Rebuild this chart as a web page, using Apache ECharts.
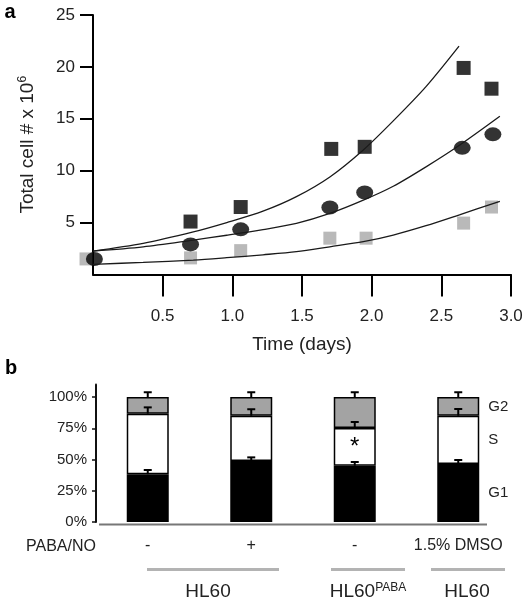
<!DOCTYPE html>
<html><head><meta charset="utf-8">
<script src="https://cdn.jsdelivr.net/npm/echarts@6/dist/echarts.min.js"></script>
<style>html,body{margin:0;padding:0;background:#fff}#c{width:528px;height:601px}</style>
</head><body><div id="c"></div>
<script>
// ---- Panel a data (Time in days, total cell # x 10^6)
const blackSquares = [[0.70,5.1],[1.06,6.5],[1.71,12.1],[1.95,12.3],[2.66,19.9],[2.86,17.9]];
const circles = [[0.01,1.5],[0.70,2.9],[1.06,4.35],[1.70,6.45],[1.95,7.9],[2.65,12.2],[2.87,13.5]];
const graySquares = [[-0.05,1.5],[0.70,1.6],[1.06,2.3],[1.70,3.5],[1.96,3.5],[2.66,4.95],[2.86,6.5]];
const fitUpper = [[0,2.26],[0.36,3.0],[0.72,4.1],[0.96,5.0],[1.22,6.1],[1.46,7.5],[1.70,9.4],[1.94,12.0],[2.155,14.8],[2.39,18.1],[2.627,22.0]];
const fitMiddle = [[0,2.26],[0.36,2.67],[0.72,3.32],[0.96,3.78],[1.22,4.32],[1.46,4.92],[1.70,5.88],[1.94,7.16],[2.155,8.5],[2.39,10.37],[2.63,12.45],[2.92,15.24]];
const fitLower = [[0,0.98],[0.36,1.17],[0.72,1.39],[0.96,1.62],[1.22,1.9],[1.46,2.2],[1.70,2.67],[1.94,3.16],[2.155,3.8],[2.39,4.7],[2.63,5.75],[2.92,7.05]];
const xTicks = [0.5,1.0,1.5,2.0,2.5,3.0];
const yTicks = [5,10,15,20,25];

// ---- Panel b data (% of cells)
const conditions = ['-','+','-','1.5% DMSO'];
const g1 = [38.2,48.8,45.0,46.4];
const sPhase = [48.5,36.2,30.2,38.6];
const g2 = [13.3,15.0,24.8,15.0];
const g1Err = [3.4,2.9,3.0,3.2];
const sErr = [5.0,5.2,4.8,5.4];
const g2Err = [3.8,3.8,3.8,3.8];
const pctTicks = [0,25,50,75,100];
const phaseNames = ['G1','S','G2'];

const FONT = '"Liberation Sans", Arial, Helvetica, sans-serif';
const chart = echarts.init(document.getElementById('c'), null, {renderer:'canvas'});

const errData = [];
for (let i = 0; i < conditions.length; i++) {
  const t1 = g1[i], t2 = g1[i] + sPhase[i], t3 = g1[i] + sPhase[i] + g2[i];
  errData.push([i, t1, g1Err[i]]);
  errData.push([i, t2, sErr[i]]);
  errData.push([i, t3, g2Err[i]]);
}

const sideLabel = (name) => ({
  show: true, position: 'right', distance: 9, fontSize: 15, color: '#222', fontFamily: FONT,
  formatter: p => p.dataIndex === conditions.length - 1 ? name : ''
});

const fitLine = (data) => ({
  type: 'line', xAxisIndex: 0, yAxisIndex: 0, data: data, smooth: 0.3,
  showSymbol: false, symbol: 'none', lineStyle: {color: '#1a1a1a', width: 1.3}, z: 4
});

const option = {
  animation: false,
  textStyle: {fontFamily: FONT},
  grid: [
    {left: 93, top: 15, width: 418, height: 259.5},
    {left: 96, top: 384.5, width: 414, height: 137.5}
  ],
  xAxis: [
    {type: 'value', gridIndex: 0, min: 0, max: 3,
     axisLine: {lineStyle: {color: '#000', width: 2}},
     axisTick: {customValues: xTicks, length: 22, lineStyle: {color: '#000', width: 2}},
     axisLabel: {customValues: xTicks, formatter: v => v.toFixed(1), fontSize: 17, color: '#222', margin: 33, fontFamily: FONT},
     splitLine: {show: false},
     name: 'Time (days)', nameLocation: 'middle', nameGap: 61,
     nameTextStyle: {fontSize: 19, color: '#222', fontFamily: FONT}},
    {type: 'category', gridIndex: 1, data: conditions,
     axisLine: {show: false}, axisTick: {show: false},
     axisLabel: {interval: 0, hideOverlap: false, fontSize: 16, color: '#222', margin: 16, fontFamily: FONT}}
  ],
  yAxis: [
    {type: 'value', gridIndex: 0, min: 0, max: 25,
     axisLine: {show: true, lineStyle: {color: '#000', width: 2}},
     axisTick: {show: true, customValues: yTicks, length: 13, lineStyle: {color: '#000', width: 2}},
     axisLabel: {customValues: yTicks, fontSize: 17, color: '#222', margin: 18, fontFamily: FONT},
     splitLine: {show: false},
     name: 'Total cell # x 10{sup|6}', nameLocation: 'middle', nameGap: 55, nameRotate: 90,
     nameTextStyle: {fontSize: 19, color: '#222', fontFamily: FONT,
       rich: {sup: {fontSize: 12, verticalAlign: 'top', padding: [0,0,9,0], color: '#222', fontFamily: FONT}}}},
    {type: 'value', gridIndex: 1, min: 0, max: 110,
     axisLine: {show: true, lineStyle: {color: '#111', width: 2}},
     axisTick: {show: true, customValues: pctTicks, length: 4, lineStyle: {color: '#111', width: 1.5}},
     axisLabel: {customValues: pctTicks, formatter: '{value}%', fontSize: 15, color: '#222', margin: 9, fontFamily: FONT},
     splitLine: {show: false}}
  ],
  series: [
    {type: 'scatter', xAxisIndex: 0, yAxisIndex: 0, data: graySquares, symbol: 'rect', symbolSize: 13,
     itemStyle: {color: '#a8a8a8'}, clip: false, z: 2},
    {type: 'scatter', xAxisIndex: 0, yAxisIndex: 0, data: blackSquares, symbol: 'rect', symbolSize: 14,
     itemStyle: {color: '#000'}, clip: false, z: 3},
    {type: 'scatter', xAxisIndex: 0, yAxisIndex: 0, data: circles, symbol: 'circle', symbolSize: [17,14],
     itemStyle: {color: '#000'}, clip: false, z: 3},
    fitLine(fitUpper),
    fitLine(fitMiddle),
    fitLine(fitLower),

    {type: 'bar', name: phaseNames[0], xAxisIndex: 1, yAxisIndex: 1, stack: 'cc', data: g1, barWidth: 42,
     itemStyle: {color: '#000', borderColor: '#000', borderWidth: 1.5}, label: sideLabel(phaseNames[0])},
    {type: 'bar', name: phaseNames[1], xAxisIndex: 1, yAxisIndex: 1, stack: 'cc', barWidth: 42,
     data: sPhase.map((v, i) => i === 2 ? {value: v, label: {show: true, position: 'inside', formatter: '*', fontSize: 24, color: '#000'}} : v),
     itemStyle: {color: '#fff', borderColor: '#000', borderWidth: 1.5}, label: sideLabel(phaseNames[1])},
    {type: 'bar', name: phaseNames[2], xAxisIndex: 1, yAxisIndex: 1, stack: 'cc', data: g2, barWidth: 42,
     itemStyle: {color: '#a3a3a3', borderColor: '#000', borderWidth: 1.5}, label: sideLabel(phaseNames[2])},
    {type: 'custom', xAxisIndex: 1, yAxisIndex: 1, data: errData, z: 10,
     renderItem: (params, api) => {
       const i = api.value(0), top = api.value(1), e = api.value(2);
       const p0 = api.coord([i, top]);
       const p1 = api.coord([i, top + e]);
       const half = 4;
       return {type: 'group', children: [
         {type: 'line', shape: {x1: p0[0], y1: p0[1], x2: p1[0], y2: p1[1]}, style: {stroke: '#000', lineWidth: 2}},
         {type: 'line', shape: {x1: p1[0]-half, y1: p1[1], x2: p1[0]+half, y2: p1[1]}, style: {stroke: '#000', lineWidth: 2}}
       ]};
     }}
  ],
  graphic: [
    {type: 'text', x: 10, y: 12, style: {text: 'a', fontSize: 20, fontWeight: 'bold', fill: '#000', align: 'center', verticalAlign: 'middle', fontFamily: FONT}},
    {type: 'text', x: 11, y: 368, style: {text: 'b', fontSize: 20, fontWeight: 'bold', fill: '#000', align: 'center', verticalAlign: 'middle', fontFamily: FONT}},
    {type: 'line', shape: {x1: 99, y1: 524.5, x2: 487, y2: 524.5}, style: {stroke: '#777', lineWidth: 2}},
    {type: 'text', x: 26, y: 547, style: {text: 'PABA/NO', fontSize: 16, fill: '#222', align: 'left', verticalAlign: 'middle', fontFamily: FONT}},
    {type: 'line', shape: {x1: 147, y1: 569.5, x2: 279, y2: 569.5}, style: {stroke: '#b3b3b3', lineWidth: 3}},
    {type: 'line', shape: {x1: 331, y1: 569.5, x2: 405, y2: 569.5}, style: {stroke: '#b3b3b3', lineWidth: 3}},
    {type: 'line', shape: {x1: 431, y1: 569.5, x2: 505, y2: 569.5}, style: {stroke: '#b3b3b3', lineWidth: 3}},
    {type: 'text', x: 208, y: 592, style: {text: 'HL60', fontSize: 19, fill: '#222', align: 'center', verticalAlign: 'middle', fontFamily: FONT}},
    {type: 'text', x: 368, y: 592, style: {text: 'HL60{sup|PABA}', fontSize: 19, fill: '#222', align: 'center', verticalAlign: 'middle', fontFamily: FONT,
      rich: {sup: {fontSize: 12, verticalAlign: 'top', padding: [0,0,8,0], fill: '#222', fontFamily: FONT}}}},
    {type: 'text', x: 467, y: 592, style: {text: 'HL60', fontSize: 19, fill: '#222', align: 'center', verticalAlign: 'middle', fontFamily: FONT}}
  ]
};
chart.setOption(option);
</script></body></html>
